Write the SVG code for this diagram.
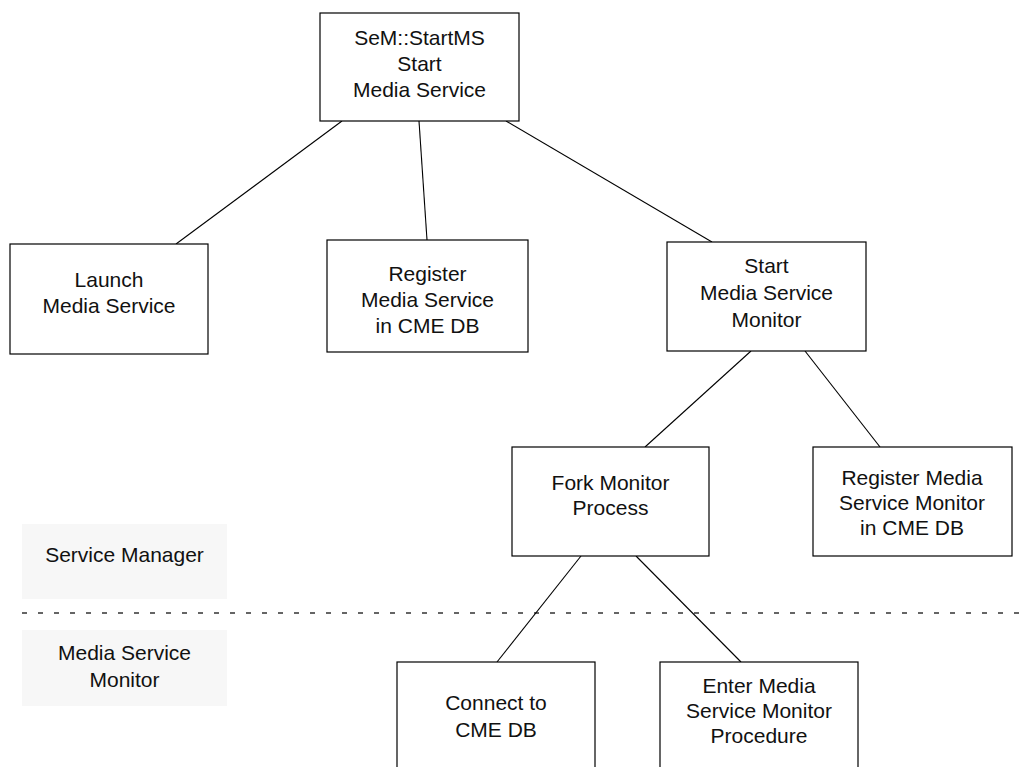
<svg xmlns="http://www.w3.org/2000/svg" width="1021" height="767" viewBox="0 0 1021 767">
  <style>
    .box { fill: #ffffff; stroke: #000000; stroke-width: 1.2; }
    .lane { fill: #f7f7f7; stroke: none; }
    .t { font-family: "Liberation Sans", Arial, sans-serif; font-size: 21px; fill: #111111; text-anchor: middle; }
    .edge { stroke: #000000; stroke-width: 1.1; fill: none; }
    .divider { stroke: #333333; stroke-width: 1.3; stroke-dasharray: 5 11; fill: none; }
  </style>
  <rect width="1021" height="767" fill="#ffffff"/>

  <!-- swimlane labels -->
  <g id="lane-service-manager">
    <rect class="lane" x="22" y="524" width="205" height="75"/>
    <text class="t" x="124.5" y="562">Service Manager</text>
  </g>
  <g id="lane-media-service-monitor">
    <rect class="lane" x="22" y="630" width="205" height="76"/>
    <text class="t" x="124.5" y="660">Media Service</text>
    <text class="t" x="124.5" y="687">Monitor</text>
  </g>
  <line class="divider" x1="22" y1="613" x2="1021" y2="613"/>

  <!-- connectors -->
  <g id="connectors">
    <line class="edge" x1="342" y1="121" x2="176" y2="244"/>
    <line class="edge" x1="419" y1="121" x2="427" y2="240"/>
    <line class="edge" x1="506" y1="121" x2="712" y2="242"/>
    <line class="edge" x1="751" y1="351" x2="645" y2="447"/>
    <line class="edge" x1="805" y1="351" x2="880" y2="447"/>
    <line class="edge" x1="581" y1="556" x2="497" y2="662"/>
    <line class="edge" x1="636" y1="556" x2="741" y2="662"/>
  </g>

  <!-- nodes -->
  <g id="start-ms">
    <rect class="box" x="320" y="13" width="199" height="108"/>
    <text class="t" x="419.5" y="45">SeM::StartMS</text>
    <text class="t" x="419.5" y="71">Start</text>
    <text class="t" x="419.5" y="97">Media Service</text>
  </g>
  <g id="launch-ms">
    <rect class="box" x="10" y="244" width="198" height="110"/>
    <text class="t" x="109" y="287">Launch</text>
    <text class="t" x="109" y="313">Media Service</text>
  </g>
  <g id="register-ms">
    <rect class="box" x="327" y="240" width="201" height="112"/>
    <text class="t" x="427.5" y="281">Register</text>
    <text class="t" x="427.5" y="307">Media Service</text>
    <text class="t" x="427.5" y="333">in CME DB</text>
  </g>
  <g id="start-monitor">
    <rect class="box" x="667" y="242" width="199" height="109"/>
    <text class="t" x="766.5" y="273">Start</text>
    <text class="t" x="766.5" y="300">Media Service</text>
    <text class="t" x="766.5" y="327">Monitor</text>
  </g>
  <g id="fork-monitor">
    <rect class="box" x="512" y="447" width="197" height="109"/>
    <text class="t" x="610.5" y="490">Fork Monitor</text>
    <text class="t" x="610.5" y="515">Process</text>
  </g>
  <g id="register-monitor">
    <rect class="box" x="813" y="447" width="199" height="109"/>
    <text class="t" x="912" y="485">Register Media</text>
    <text class="t" x="912" y="510">Service Monitor</text>
    <text class="t" x="912" y="535">in CME DB</text>
  </g>
  <g id="connect-db">
    <rect class="box" x="397" y="662" width="198" height="115"/>
    <text class="t" x="496" y="710">Connect to</text>
    <text class="t" x="496" y="737">CME DB</text>
  </g>
  <g id="enter-procedure">
    <rect class="box" x="660" y="662" width="198" height="115"/>
    <text class="t" x="759" y="693">Enter Media</text>
    <text class="t" x="759" y="718">Service Monitor</text>
    <text class="t" x="759" y="743">Procedure</text>
  </g>
</svg>
